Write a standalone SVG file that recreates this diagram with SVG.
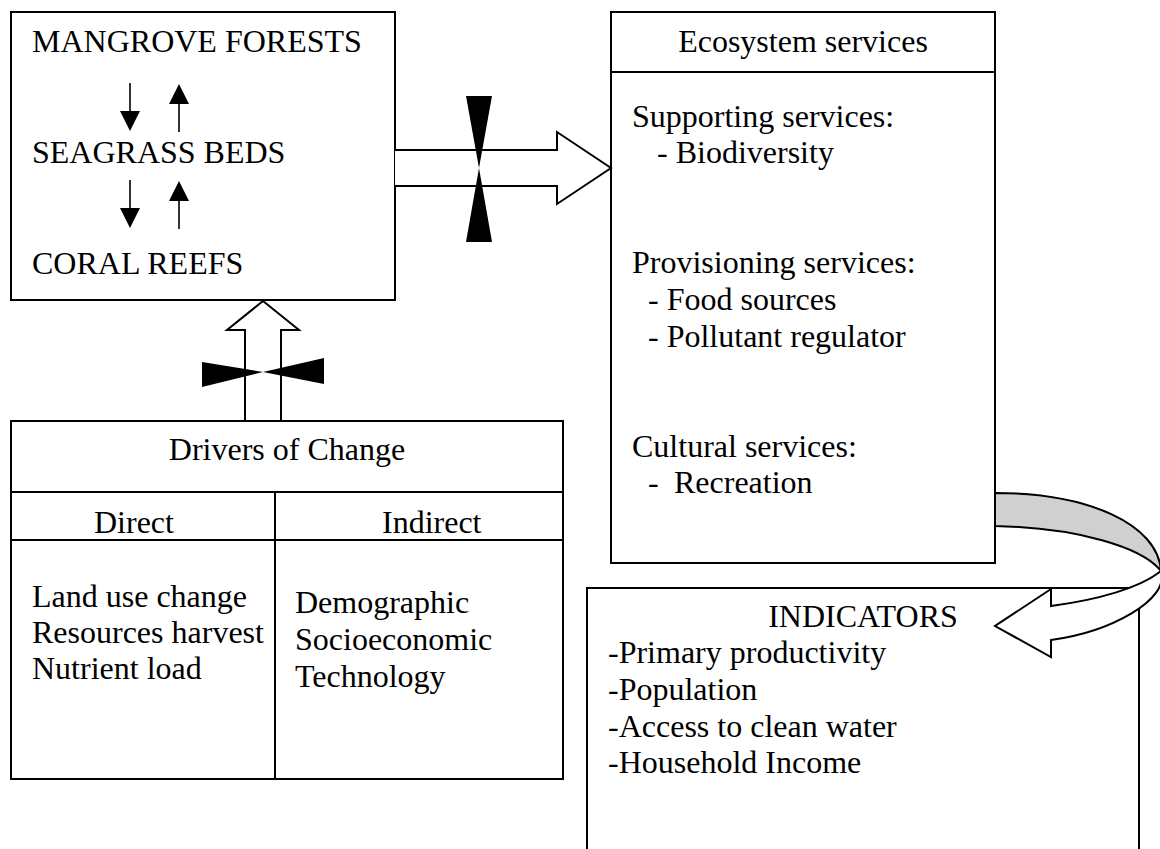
<svg xmlns="http://www.w3.org/2000/svg" width="1160" height="849" viewBox="0 0 1160 849">
  <style>
    .box { fill: #ffffff; stroke: #000000; stroke-width: 2; }
    .rule { fill: none; stroke: #000000; stroke-width: 2; }
    .t { font-family: "Liberation Serif", "Times New Roman", serif; font-size: 32px; fill: #000000; }
    .mid { text-anchor: middle; }
    .stem { stroke: #000000; stroke-width: 1.6; fill: none; marker-end: url(#head); }
    .block { fill: #ffffff; stroke: #000000; stroke-width: 2; stroke-linejoin: miter; }
    .valve { fill: #000000; stroke: none; }
    .band { fill: #d0d0d0; stroke: #000000; stroke-width: 2; stroke-linejoin: round; }
  </style>
  <defs>
    <marker id="head" viewBox="0 0 20 20" refX="17" refY="10" markerWidth="20" markerHeight="20" markerUnits="userSpaceOnUse" orient="auto">
      <path d="M0,0 L20,10 L0,20 Z" fill="#000000"/>
    </marker>
  </defs>

  <rect width="1160" height="849" fill="#ffffff"/>

  <!-- habitats -->
  <g id="habitats">
    <rect class="box" x="11" y="12" width="384" height="288"/>
    <text class="t" x="32" y="52">MANGROVE FORESTS</text>
    <text class="t" x="32" y="163">SEAGRASS BEDS</text>
    <text class="t" x="32" y="274">CORAL REEFS</text>
  </g>

  <!-- ecosystem services -->
  <g id="ecosystem-services">
    <rect class="box" x="611" y="12" width="384" height="551"/>
    <line class="rule" x1="611" y1="72" x2="995" y2="72"/>
    <text class="t mid" x="803" y="52">Ecosystem services</text>
    <text class="t" x="632" y="127">Supporting services:</text>
    <text class="t" x="657" y="163">- Biodiversity</text>
    <text class="t" x="632" y="273">Provisioning services:</text>
    <text class="t" x="648" y="310">- Food sources</text>
    <text class="t" x="648" y="347">- Pollutant regulator</text>
    <text class="t" x="632" y="457">Cultural services:</text>
    <text class="t" y="493"><tspan x="648">-</tspan><tspan x="674">Recreation</tspan></text>
  </g>

  <!-- drivers of change -->
  <g id="drivers">
    <rect class="box" x="11" y="421" width="552" height="358"/>
    <line class="rule" x1="11" y1="492" x2="563" y2="492"/>
    <line class="rule" x1="11" y1="540" x2="563" y2="540"/>
    <line class="rule" x1="275" y1="492" x2="275" y2="779"/>
    <text class="t mid" x="287" y="460">Drivers of Change</text>
    <text class="t" x="94" y="533">Direct</text>
    <text class="t" x="382" y="533">Indirect</text>
    <text class="t" x="32" y="607">Land use change</text>
    <text class="t" x="32" y="643">Resources harvest</text>
    <text class="t" x="32" y="679">Nutrient load</text>
    <text class="t" x="295" y="613">Demographic</text>
    <text class="t" x="295" y="650">Socioeconomic</text>
    <text class="t" x="295" y="687">Technology</text>
  </g>

  <!-- indicators (open at the bottom) -->
  <g id="indicators">
    <rect x="587" y="588" width="552" height="270" fill="#ffffff"/>
    <path class="rule" d="M587,849 V588 H1139 V849"/>
    <text class="t mid" x="863" y="627">INDICATORS</text>
    <text class="t" x="608" y="663">-Primary productivity</text>
    <text class="t" x="608" y="700">-Population</text>
    <text class="t" x="608" y="737">-Access to clean water</text>
    <text class="t" x="608" y="773">-Household Income</text>
  </g>

  <g id="connectors">
    <!-- exchanges between the habitats -->
    <line class="stem" x1="130" y1="83" x2="130" y2="128"/>
    <line class="stem" x1="179" y1="132" x2="179" y2="87"/>
    <line class="stem" x1="130" y1="180" x2="130" y2="225"/>
    <line class="stem" x1="179" y1="229" x2="179" y2="184"/>

    <!-- habitats to services, with valve -->
    <path class="block" d="M395,150 H557 V132 L611,168 L557,204 V186 H395"/>
    <polygon class="valve" points="466,96 492,96 479,168"/>
    <polygon class="valve" points="466,242 492,242 479,168"/>

    <!-- drivers to habitats, with valve -->
    <path class="block" d="M245,420 V330 H227 L263,301 L299,330 H281 V420"/>
    <polygon class="valve" points="202,362 202,387 263,372"/>
    <polygon class="valve" points="324,358 324,384 263,372"/>

    <!-- curved arrow from services down to indicators -->
    <path class="band" d="M995,493 C1088,493 1158,524 1161,571 C1142,547 1078,528 995,526 Z"/>
    <path class="block" d="M1161,571 C1170,600 1110,632 1051,640 L1051,657 L995,626 L1051,589 L1051,606 C1097,600 1140,588 1161,571 Z"/>
  </g>
</svg>
